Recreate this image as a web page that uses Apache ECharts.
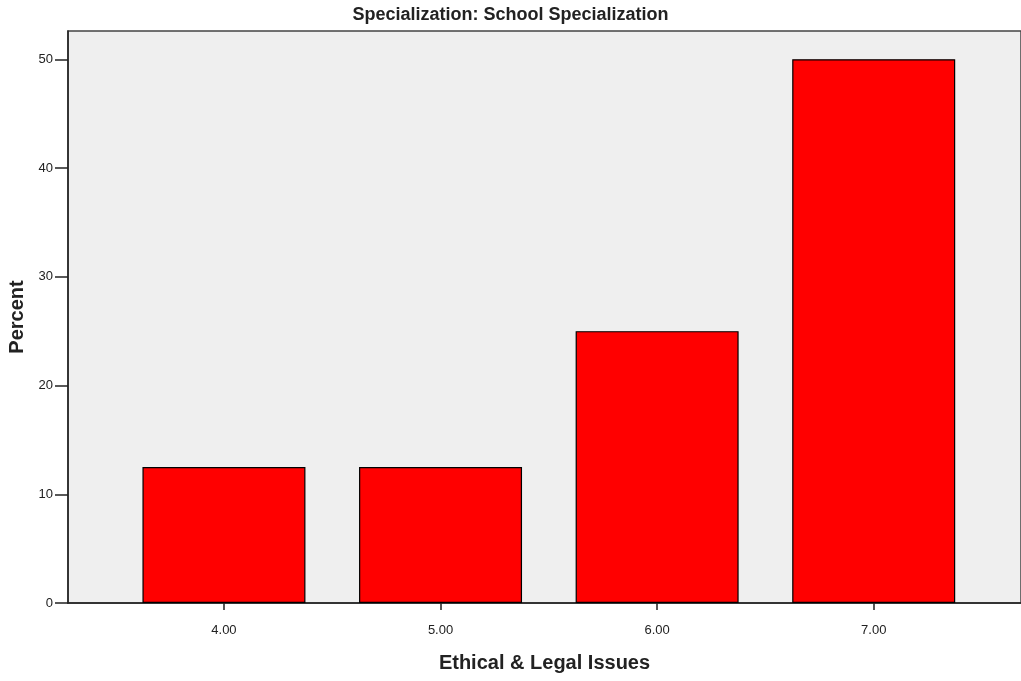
<!DOCTYPE html>
<html>
<head>
<meta charset="utf-8">
<title>Specialization: School Specialization</title>
<script src="https://cdn.jsdelivr.net/npm/echarts@6/dist/echarts.min.js"></script>
<style>
  html, body { margin: 0; padding: 0; background: #fff; }
  #chart { width: 1021px; height: 681px; }
</style>
</head>
<body>
<div id="chart"></div>
<script>
// data
var categories = [4, 5, 6, 7];
var percent = [12.5, 12.5, 25, 50];
var yTicks = [0, 10, 20, 30, 40, 50];

var font = "'Liberation Sans', Arial, sans-serif";

var myChart = echarts.init(document.getElementById('chart'));

var option = {
  animation: false,
  title: {
    text: 'Specialization: School Specialization',
    left: 'center',
    top: 1,
    textStyle: { fontFamily: font, fontSize: 18, fontWeight: 'bold', color: '#222' }
  },
  grid: {
    left: 68, right: 0, top: 31, bottom: 78,
    containLabel: false,
    outerBoundsMode: 'none',
    show: true,
    backgroundColor: '#efefef',
    borderColor: '#444',
    borderWidth: 1.5
  },
  xAxis: {
    type: 'value',
    min: 3.28,
    max: 7.68,
    name: 'Ethical & Legal Issues',
    nameLocation: 'middle',
    nameGap: 50,
    nameTextStyle: { fontFamily: font, fontSize: 20, fontWeight: 'bold', color: '#222' },
    axisLine: { show: true, lineStyle: { color: '#222', width: 1.5 } },
    axisTick: { show: true, customValues: categories, length: 7, lineStyle: { color: '#222', width: 1.5 } },
    axisLabel: {
      customValues: categories,
      formatter: function (v) { return v.toFixed(2); },
      fontFamily: font, fontSize: 13, color: '#222', margin: 21
    },
    splitLine: { show: false }
  },
  yAxis: {
    type: 'value',
    min: 0,
    max: 52.6,
    name: 'Percent',
    nameLocation: 'middle',
    nameGap: 39,
    nameRotate: 90,
    nameTextStyle: { fontFamily: font, fontSize: 20, fontWeight: 'bold', color: '#222' },
    axisLine: { show: true, lineStyle: { color: '#222', width: 1.5 } },
    axisTick: { show: true, customValues: yTicks, length: 13, lineStyle: { color: '#222', width: 1.5 } },
    axisLabel: { customValues: yTicks, fontFamily: font, fontSize: 13, color: '#222', margin: 15 },
    splitLine: { show: false }
  },
  series: [
    {
      type: 'bar',
      barWidth: 163,
      data: categories.map(function (c, i) { return [c, percent[i]]; }),
      itemStyle: { color: '#ff0000', borderColor: '#000', borderWidth: 1.2 }
    }
  ]
};

myChart.setOption(option);
</script>
</body>
</html>
